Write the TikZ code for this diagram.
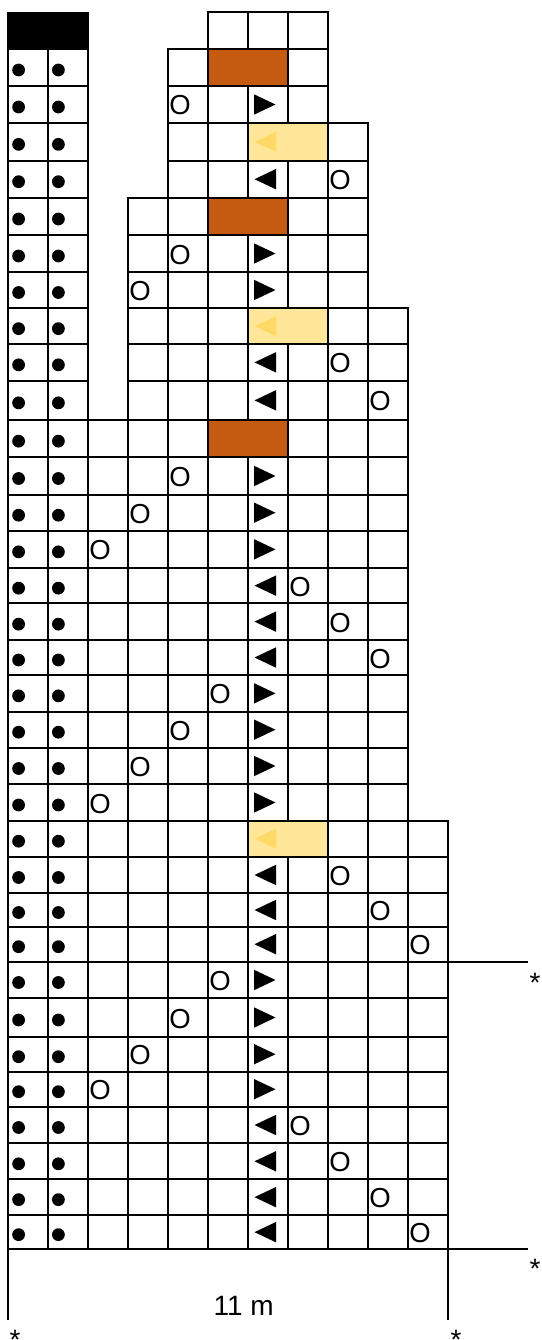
\documentclass[tikz,border=0pt]{standalone}
\usepackage{fontspec}
\setmainfont{Liberation Sans}
\definecolor{rust}{RGB}{197,90,17}
\definecolor{goldfill}{RGB}{255,230,153}
\definecolor{goldarrow}{RGB}{255,217,102}
\def\rowY{{11.7,49,86,123,160.7,197.7,235.3,271.7,308.3,344,380.7,420,457.3,494.7,530.7,568,603.3,640,675,711.7,747.7,784.3,820.7,856.7,893.3,926.7,961.7,998.3,1036.7,1071.7,1106.7,1143.3,1179.3,1215,1249.3}}
\newcommand{\getrow}[1]{\pgfmathsetmacro\yt{\rowY[#1]}\pgfmathsetmacro\yb{\rowY[#1+1]}\pgfmathsetmacro\yc{(\yt+\yb)/2}}
\newcommand{\cellsrow}[3]{\getrow{#1}\foreach \c in {#2,...,#3}{\draw[cellbox] ({8+40*\c},\yt) rectangle ({48+40*\c},\yb);}}
\begin{document}
\begin{tikzpicture}[x=1pt,y=-1pt,
  cellbox/.style={line width=1.8pt,black},
  rule/.style={line width=1.8pt,black},
  omark/.style={font=\fontsize{27.5}{30}\selectfont,inner sep=0pt,anchor=base west},
  lbl/.style={font=\fontsize{28}{30}\selectfont,inner sep=0pt,anchor=base}]
\useasboundingbox (0,0) rectangle (541,1340);
\fill[white] (0,0) rectangle (541,1340);
% grid cells
\cellsrow{0}{5}{7}
\foreach \r in {1,2}{\cellsrow{\r}{0}{1}\cellsrow{\r}{4}{7}}
\foreach \r in {3,4}{\cellsrow{\r}{0}{1}\cellsrow{\r}{4}{8}}
\foreach \r in {5,6,7}{\cellsrow{\r}{0}{1}\cellsrow{\r}{3}{8}}
\foreach \r in {8,9,10}{\cellsrow{\r}{0}{1}\cellsrow{\r}{3}{9}}
\foreach \r in {11,...,21}{\cellsrow{\r}{0}{9}}
\foreach \r in {22,...,33}{\cellsrow{\r}{0}{10}}
% black header
\fill[black] (7.1,11.7) rectangle (88.9,49);
% coloured pairs
\foreach \r in {1,5,11}{\getrow{\r}\fill[rust] (208.9,\yt+0.9) rectangle (287.1,\yb-0.9);}
\foreach \r in {3,8,22}{\getrow{\r}\fill[goldfill] (248.9,\yt+0.9) rectangle (327.1,\yb-0.9);
  \fill[goldarrow] (276,\yc-10) -- (255,\yc) -- (276,\yc+10) -- cycle;}
% dots
\foreach \r in {1,...,33}{\getrow{\r}\fill (18.6,\yc+2.5) circle (6.4); \fill (58.4,\yc+2.5) circle (6.4);}
% arrows
\foreach \r in {2,6,7,12,13,14,18,19,20,21,26,27,28,29}{\getrow{\r}\fill (254,\yc-10.2) -- (275.5,\yc) -- (254,\yc+10.2) -- cycle;}
\foreach \r in {4,9,10,15,16,17,23,24,25,30,31,32,33}{\getrow{\r}\fill (276,\yc-10.2) -- (254.5,\yc) -- (276,\yc+10.2) -- cycle;}
% yarn overs
\foreach \r/\c in {2/4,4/8,6/4,7/3,9/8,10/9,12/4,13/3,14/2,15/7,16/8,17/9,18/5,19/4,20/3,21/2,23/8,24/9,25/10,26/5,27/4,28/3,29/2,30/7,31/8,32/9,33/10}{\getrow{\r}\node[omark] (o\r) at ({9.2+40*\c},\yc+10.5) {O};}
% repeat marks
\coordinate (lt) at (8,1249.3);
\coordinate (lb) at (8,1320);
\coordinate (rt) at (448,1249.3);
\coordinate (rb) at (448,1320);
\coordinate (h1a) at (448,961.7);
\coordinate (h1b) at (528,961.7);
\coordinate (h2a) at (448,1249.3);
\coordinate (h2b) at (528,1249.3);
\draw[rule] (lt) -- (lb);
\draw[rule] (rt) -- (rb);
\draw[rule] (h1a) -- (h1b);
\draw[rule] (h2a) -- (h2b);
\node[lbl] (width) at (243.7,1315) {11 m};
\node[lbl] (s1) at (535,992) {*};
\node[lbl] (s2) at (535,1278.5) {*};
\node[lbl] (s3) at (15,1349.5) {*};
\node[lbl] (s4) at (456,1349.5) {*};
\end{tikzpicture}
\end{document}
